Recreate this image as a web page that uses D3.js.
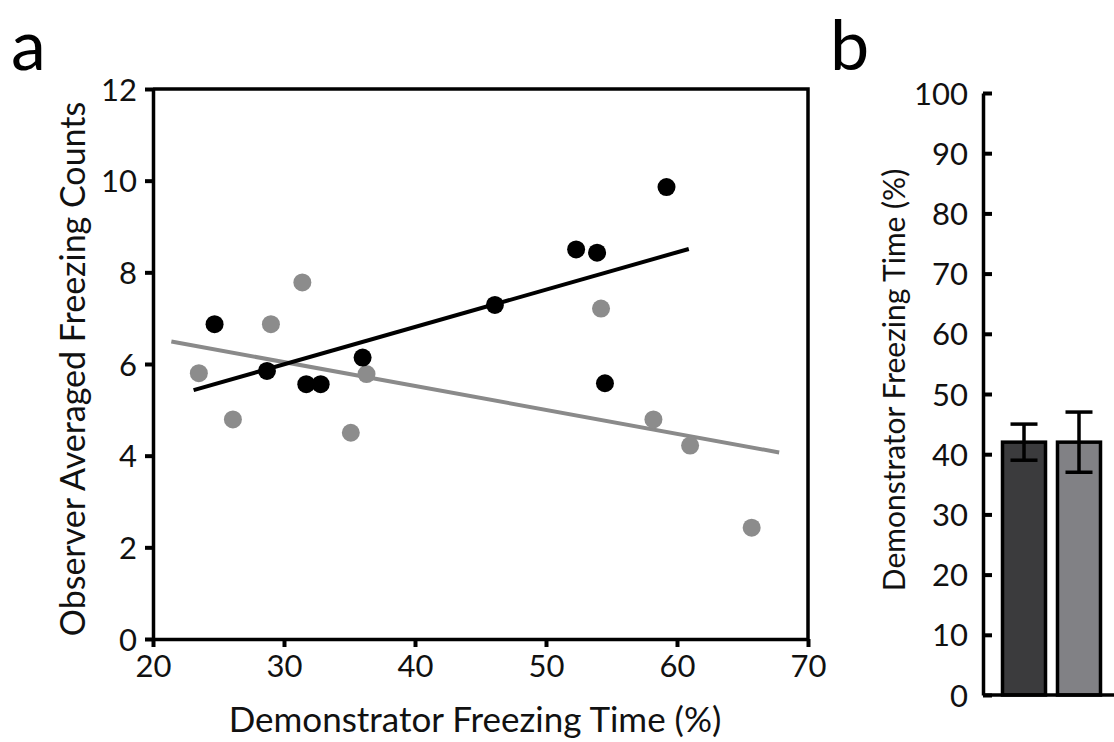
<!DOCTYPE html>
<html>
<head>
<meta charset="utf-8">
<script src="https://cdn.jsdelivr.net/npm/d3@7"></script>
<style>
body { margin: 0; background: #fff; }
svg { display: block; font-family: Lato, "Open Sans", sans-serif; }
</style>
</head>
<body>
<div id="chart"></div>
<script>
// panel a: observer vs demonstrator, two groups
var blackX = [24.7, 28.7, 31.7, 32.8, 36.0, 46.1, 52.3, 53.9, 54.5, 59.2];
var blackY = [6.87, 5.85, 5.56, 5.56, 6.14, 7.29, 8.50, 8.43, 5.58, 9.86];
var grayX = [23.5, 26.1, 29.0, 31.4, 35.1, 36.3, 54.2, 58.2, 61.0, 65.7];
var grayY = [5.80, 4.79, 6.87, 7.78, 4.50, 5.78, 7.21, 4.79, 4.22, 2.43];
// fitted lines (end points)
var blackFitX = [23.1, 60.9];
var blackFitY = [5.43, 8.51];
var grayFitX = [21.4, 67.8];
var grayFitY = [6.49, 4.07];
var xTicksA = [20, 30, 40, 50, 60, 70];
var yTicksA = [0, 2, 4, 6, 8, 10, 12];

// panel b: demonstrator freezing time
var groupsB = ["dark", "gray"];
var meansB = [42, 42];
var errB = [3, 5];
var yTicksB = [0, 10, 20, 30, 40, 50, 60, 70, 80, 90, 100];

var W = 1114, H = 742;
var svg = d3.select("#chart").append("svg")
	.attr("width", W)
	.attr("height", H);

function zip(xs, ys) {
	return xs.map(function(d, i) { return [d, ys[i]]; });
}

// ---------- panel a ----------
var xa = d3.scaleLinear().domain([20, 70]).range([153, 808]);
var ya = d3.scaleLinear().domain([0, 12]).range([639, 89]);

var ga = svg.append("g");

// box (top and right)
ga.append("path")
	.attr("d", "M" + xa(20) + "," + ya(12) + "H" + xa(70) + "V" + ya(0))
	.attr("fill", "none")
	.attr("stroke", "#000")
	.attr("stroke-width", 3.5);

var axA = ga.append("g")
	.attr("transform", "translate(0," + ya(0) + ")")
	.call(d3.axisBottom(xa).tickValues(xTicksA).tickSize(8).tickPadding(8).tickSizeOuter(0));
var ayA = ga.append("g")
	.attr("transform", "translate(" + xa(20) + ",0)")
	.call(d3.axisLeft(ya).tickValues(yTicksA).tickSize(8).tickPadding(8).tickSizeOuter(0));

[axA, ayA].forEach(function(a) {
	a.select(".domain").attr("stroke-width", 3.5);
	a.selectAll(".tick line").attr("stroke-width", 4);
	a.selectAll(".tick text")
		.style("font-size", "31px")
		.style("font-family", "Lato, 'Open Sans', sans-serif")
		.attr("fill", "#111");
});
ayA.selectAll(".tick text").attr("dy", "0.36em");

var line = d3.line()
	.x(function(d) { return xa(d[0]); })
	.y(function(d) { return ya(d[1]); });

ga.append("path")
	.datum(zip(grayFitX, grayFitY))
	.attr("d", line)
	.attr("fill", "none")
	.attr("stroke", "#8a8a8a")
	.attr("stroke-width", 4);
ga.append("path")
	.datum(zip(blackFitX, blackFitY))
	.attr("d", line)
	.attr("fill", "none")
	.attr("stroke", "#000")
	.attr("stroke-width", 4);

ga.selectAll("circle.gray")
	.data(zip(grayX, grayY))
	.enter()
	.append("circle")
	.attr("class", "gray")
	.attr("cx", function(d) { return xa(d[0]); })
	.attr("cy", function(d) { return ya(d[1]); })
	.attr("r", 9)
	.attr("fill", "#8c8c8c");
ga.selectAll("circle.black")
	.data(zip(blackX, blackY))
	.enter()
	.append("circle")
	.attr("class", "black")
	.attr("cx", function(d) { return xa(d[0]); })
	.attr("cy", function(d) { return ya(d[1]); })
	.attr("r", 9)
	.attr("fill", "#000");

ga.append("text")
	.attr("x", 475)
	.attr("y", 732)
	.attr("text-anchor", "middle")
	.style("font-size", "35px")
	.attr("fill", "#111")
	.text("Demonstrator Freezing Time (%)");
ga.append("text")
	.attr("transform", "translate(85,369) rotate(-90)")
	.attr("text-anchor", "middle")
	.style("font-size", "34px")
	.attr("fill", "#111")
	.text("Observer Averaged Freezing Counts");

// ---------- panel b ----------
var xb = d3.scaleBand().domain(groupsB).range([1002.5, 1100.5]).paddingInner(0.218);
var yb = d3.scaleLinear().domain([0, 100]).range([695, 93]);
var fillB = { dark: "#3b3b3d", gray: "#818185" };

var gb = svg.append("g");

gb.selectAll("rect.bar")
	.data(groupsB)
	.enter()
	.append("rect")
	.attr("class", "bar")
	.attr("x", function(d) { return xb(d); })
	.attr("width", xb.bandwidth())
	.attr("y", function(d, i) { return yb(meansB[i]); })
	.attr("height", function(d, i) { return yb(0) - yb(meansB[i]); })
	.attr("fill", function(d) { return fillB[d]; })
	.attr("stroke", "#000")
	.attr("stroke-width", 3.5);

var eb = gb.selectAll("g.err")
	.data(groupsB)
	.enter()
	.append("g")
	.attr("class", "err")
	.attr("stroke", "#000")
	.attr("stroke-width", 3.5);
eb.append("line")
	.attr("x1", function(d) { return xb(d) + xb.bandwidth() / 2; })
	.attr("x2", function(d) { return xb(d) + xb.bandwidth() / 2; })
	.attr("y1", function(d, i) { return yb(meansB[i] + errB[i]); })
	.attr("y2", function(d, i) { return yb(meansB[i] - errB[i]); });
eb.append("line")
	.attr("x1", function(d) { return xb(d) + xb.bandwidth() / 2 - 13.5; })
	.attr("x2", function(d) { return xb(d) + xb.bandwidth() / 2 + 13.5; })
	.attr("y1", function(d, i) { return yb(meansB[i] + errB[i]); })
	.attr("y2", function(d, i) { return yb(meansB[i] + errB[i]); });
eb.append("line")
	.attr("x1", function(d) { return xb(d) + xb.bandwidth() / 2 - 13.5; })
	.attr("x2", function(d) { return xb(d) + xb.bandwidth() / 2 + 13.5; })
	.attr("y1", function(d, i) { return yb(meansB[i] - errB[i]); })
	.attr("y2", function(d, i) { return yb(meansB[i] - errB[i]); });

// baseline runs off the right edge
gb.append("line")
	.attr("x1", 983)
	.attr("x2", W)
	.attr("y1", yb(0))
	.attr("y2", yb(0))
	.attr("stroke", "#000")
	.attr("stroke-width", 3.5);

var ayB = gb.append("g")
	.attr("transform", "translate(983,0)")
	.call(d3.axisLeft(yb).tickValues(yTicksB).tickSize(-9).tickPadding(15).tickSizeOuter(0));
ayB.select(".domain").attr("stroke-width", 3.5);
ayB.selectAll(".tick line").attr("stroke-width", 4);
ayB.selectAll(".tick text")
	.attr("dy", "0.36em")
	.style("font-size", "31px")
	.style("font-family", "Lato, 'Open Sans', sans-serif")
	.attr("fill", "#111");

gb.append("text")
	.attr("transform", "translate(905,380) rotate(-90)")
	.attr("text-anchor", "middle")
	.style("font-size", "30px")
	.attr("fill", "#111")
	.text("Demonstrator Freezing Time (%)");

// panel letters
svg.append("text")
	.attr("x", 11)
	.attr("y", 70)
	.style("font-size", "70px")
	.attr("fill", "#000")
	.text("a");
svg.append("text")
	.attr("x", 830)
	.attr("y", 70)
	.style("font-size", "70px")
	.attr("fill", "#000")
	.text("b");
</script>
</body>
</html>
